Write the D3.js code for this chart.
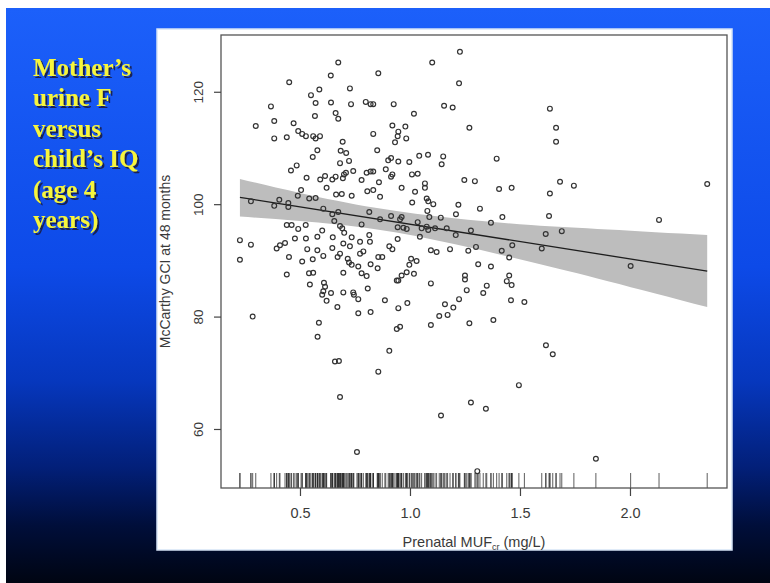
<!DOCTYPE html>
<html><head><meta charset="utf-8">
<script src="https://cdn.jsdelivr.net/npm/d3@7"></script>
<style>html,body{margin:0;padding:0;background:#fff;} svg{display:block}</style>
</head><body>
<svg id="c" width="770" height="583"></svg>
<script>
// ---- data ----
const titleLines = ["Mother\u2019s", "urine F", "versus", "child\u2019s IQ", "(age 4", "years)"];
const yLabel = "McCarthy GCI at 48 months";
const xTicks = [0.5, 1.0, 1.5, 2.0];
const yTicks = [60, 80, 100, 120];
const fitX = [0.227, 2.351];
const fitY = [101.2, 88.1];
const bandX = [0.227, 0.5, 0.85, 1.2, 1.55, 1.9, 2.351];
const bandLower = [97.8, 97.0, 95.5, 92.9, 89.7, 86.3, 81.7];
const bandUpper = [104.5, 102.0, 99.3, 97.5, 96.3, 95.5, 94.5];
// [prenatal MUFcr (mg/L), McCarthy GCI]
const points = [
[0.674,125.2],[0.640,122.9],[0.451,121.7],[0.588,120.4],[0.727,120.6],[0.550,119.4],[0.571,118.0],[0.641,118.1],[0.732,117.8],[0.368,117.4],[0.799,118.2],[0.821,117.8],[0.833,117.8],[0.568,115.7],[0.662,116.2],[0.674,115.2],[0.299,113.9],[0.383,114.8],[0.471,114.4],[0.383,111.7],[0.440,111.9],[0.492,113.0],[0.510,112.5],[0.527,112.1],[0.560,112.1],[0.571,111.7],[0.591,112.1],[0.833,112.5],[0.694,111.1],[0.685,109.5],[0.710,109.1],[0.579,109.6],[0.558,108.4],[0.682,107.3],[0.723,107.7],[0.485,106.9],[0.459,106.0],[0.530,104.7],[0.592,104.4],[0.614,105.0],[0.647,104.4],[0.662,104.9],[0.700,105.3],[0.709,105.6],[0.695,104.6],[0.742,105.9],[0.780,104.3],[0.803,105.6],[0.821,105.8],[0.833,105.8],
[1.227,127.1],[1.101,125.2],[0.856,123.3],[1.223,121.5],[0.926,117.8],[1.155,117.5],[1.194,117.2],[1.018,116.1],[1.270,113.6],[0.920,114.0],[0.979,113.8],[0.947,112.9],[0.944,112.1],[0.983,111.7],[0.932,111.0],[0.851,109.6],[1.042,108.6],[1.082,108.8],[1.151,108.5],[1.144,107.1],[1.394,108.1],[0.901,107.8],[0.914,108.2],[0.947,107.6],[0.997,107.5],[0.890,106.2],[0.914,104.9],[0.920,105.3],[1.009,105.3],[1.035,105.4],[1.068,103.7],[1.247,104.3],[1.295,104.1],[0.859,103.9],
[1.636,117.0],[1.664,113.6],[1.664,111.1],[1.636,101.9],[1.682,104.0],[1.745,103.3],[2.351,103.6],[1.632,97.9],[1.617,94.7],[1.690,95.2],[2.132,97.2],[2.003,89.0],[1.599,92.1],[1.618,74.9],[1.649,73.3],[1.845,54.7],
[0.505,102.5],[0.621,102.9],[0.664,101.7],[0.690,101.8],[0.735,101.5],[0.806,102.3],[0.833,102.5],[0.490,101.5],[0.542,101.0],[0.571,101.1],[0.277,100.5],[0.406,100.8],[0.447,100.2],[0.383,99.7],[0.447,99.5],[0.606,99.2],[0.647,98.2],[0.674,98.6],[0.815,98.6],[0.656,97.0],[0.440,96.3],[0.462,96.3],[0.526,96.3],[0.492,95.6],[0.682,96.1],[0.692,95.7],[0.701,94.9],[0.780,96.4],[0.601,95.3],[0.227,93.6],[0.277,92.8],[0.477,93.9],[0.527,93.9],[0.579,94.2],[0.649,94.1],[0.735,94.1],[0.815,94.5],[0.818,93.3],[0.394,92.1],[0.409,92.7],[0.432,93.1],[0.533,92.0],[0.579,91.8],[0.647,92.2],[0.697,93.0],[0.727,92.5],[0.773,93.3],[0.450,90.6],[0.510,89.8],[0.558,90.2],[0.606,90.8],[0.671,90.6],[0.682,91.2],[0.717,90.3],[0.723,89.6],[0.735,89.2],[0.773,91.2],[0.788,91.6],[0.227,90.1],[0.765,88.9],[0.821,89.3],[0.440,87.5],[0.541,87.7],[0.560,87.8],[0.697,87.8],[0.780,87.7],[0.803,87.2],[0.545,85.7],[0.609,86.0],[0.614,85.3],[0.606,84.5],[0.601,83.9],[0.641,84.2],[0.697,84.3],[0.742,84.3],[0.745,83.9],[0.808,85.0],[0.621,82.8],[0.765,83.1],[0.670,81.7],[0.765,80.6],[0.821,80.8],[0.285,80.0],[0.586,78.9],
[0.962,102.9],[1.023,102.2],[1.068,102.9],[0.864,101.3],[1.010,100.3],[1.076,101.0],[1.083,100.5],[1.106,100.0],[1.220,99.9],[1.405,102.7],[1.462,102.9],[1.318,99.2],[1.079,98.8],[1.209,98.2],[1.420,97.7],[1.140,97.6],[1.088,97.7],[0.914,97.9],[0.962,97.7],[0.955,97.3],[0.864,97.3],[1.035,96.8],[1.368,96.7],[0.944,95.9],[0.970,95.8],[0.985,95.6],[1.053,95.7],[1.076,96.0],[1.083,95.4],[1.114,95.7],[1.167,95.7],[1.277,95.3],[1.045,94.2],[1.208,94.5],[0.944,93.8],[1.465,92.7],[0.906,92.5],[0.920,92.0],[1.095,91.8],[1.121,91.5],[1.182,92.0],[1.265,91.7],[1.300,92.4],[1.417,91.7],[1.451,90.5],[0.856,90.6],[0.874,90.6],[1.005,90.3],[1.030,89.9],[0.997,89.2],[0.853,88.6],[1.310,89.3],[1.368,88.9],[0.985,87.9],[0.962,87.3],[1.018,87.6],[0.940,86.4],[0.947,86.4],[1.095,85.9],[1.250,87.3],[1.250,86.6],[1.451,87.3],[1.440,86.3],[1.462,85.6],[1.349,85.5],[1.258,84.7],[1.333,84.2],[0.886,82.9],[0.988,82.4],[1.223,83.1],[1.459,82.9],[1.520,82.6],[1.159,82.2],[1.197,81.6],[0.947,81.5],[1.133,80.1],[1.171,80.3],[1.379,79.4],[1.270,78.8],[1.095,78.5],[0.940,77.8],[0.955,78.2],
[0.580,76.4],[0.906,73.9],[0.659,72.0],[0.677,72.1],[0.856,70.2],[0.682,65.7],[0.759,55.9],[1.141,62.4],[1.277,64.7],[1.345,63.6],[1.495,67.8],[1.306,52.5]
];

// ---- drawing ----
const svg = d3.select("#c");
const defs = svg.append("defs");
const grad = defs.append("linearGradient").attr("id", "bg").attr("x1", 0).attr("y1", 0).attr("x2", 0).attr("y2", 1);
[[0, "#1c60fa"], [0.45, "#0d4ae8"], [0.65, "#0637bd"], [0.8, "#021f78"], [0.9, "#000e3a"], [1, "#000512"]]
  .forEach(([o, c]) => grad.append("stop").attr("offset", o).attr("stop-color", c));
const shadow = defs.append("filter").attr("id", "sh").attr("x", "-10%").attr("y", "-20%").attr("width", "130%").attr("height", "150%");
shadow.append("feDropShadow").attr("dx", 2).attr("dy", 2).attr("stdDeviation", 0.6)
  .attr("flood-color", "#141438").attr("flood-opacity", 0.85);

svg.append("rect").attr("x", 6).attr("y", 8).attr("width", 764).attr("height", 575).attr("fill", "url(#bg)");

// title
const title = svg.append("g").attr("font-family", "'Liberation Serif', 'Times New Roman', serif")
  .attr("font-weight", "bold").attr("font-size", 25).attr("fill", "#f6f53c").attr("filter", "url(#sh)");
titleLines.forEach((t, i) => {
  title.append("text").attr("x", 33).attr("y", 76 + i * 30.4).text(t);
});

// white panel
svg.append("rect").attr("x", 157).attr("y", 29).attr("width", 575).attr("height", 521)
  .attr("fill", "#fff").attr("stroke", "#d6e4f6").attr("stroke-width", 1.5);

const pL = 221, pR = 727, pT = 35, pB = 488;
const x = d3.scaleLinear().domain([0.141, 2.441]).range([pL, pR]);
const y = d3.scaleLinear().domain([49.5, 130.1]).range([pB, pT]);

// confidence band
const band = bandX.map((v, i) => ({x: v, lo: bandLower[i], hi: bandUpper[i]}));
svg.append("path").datum(band)
  .attr("d", d3.area().x(d => x(d.x)).y0(d => y(d.lo)).y1(d => y(d.hi)).curve(d3.curveNatural))
  .attr("fill", "#bdbdbd");

// fit line
svg.append("path").datum(fitX.map((v, i) => [v, fitY[i]]))
  .attr("d", d3.line().x(d => x(d[0])).y(d => y(d[1])))
  .attr("stroke", "#1e1e1e").attr("stroke-width", 1.3).attr("fill", "none");

// rug
svg.append("g").selectAll("line").data(points).join("line")
  .attr("x1", d => x(d[0])).attr("x2", d => x(d[0]))
  .attr("y1", pB).attr("y2", pB - 15)
  .attr("stroke", "#2a2a2a").attr("stroke-width", 0.9).attr("stroke-opacity", 0.85);

// points
svg.append("g").selectAll("circle").data(points).join("circle")
  .attr("cx", d => x(d[0])).attr("cy", d => y(d[1])).attr("r", 2.4)
  .attr("fill", "none").attr("stroke", "#333").attr("stroke-width", 1.2);

// box
svg.append("rect").attr("x", pL).attr("y", pT).attr("width", pR - pL).attr("height", pB - pT)
  .attr("fill", "none").attr("stroke", "#555").attr("stroke-width", 1.3);

const font = "'Liberation Sans', Arial, Helvetica, sans-serif";

// x axis
const xa = svg.append("g").attr("transform", `translate(0,${pB})`)
  .call(d3.axisBottom(x).tickValues(xTicks).tickSize(8).tickPadding(12).tickFormat(d3.format(".1f")));
xa.select(".domain").remove();
xa.selectAll("line").attr("stroke", "#444").attr("stroke-width", 1.2);
xa.selectAll("text").attr("font-family", font).attr("font-size", 14.5).attr("fill", "#3a3a3a");

// y axis
const ya = svg.append("g").attr("transform", `translate(${pL},0)`)
  .call(d3.axisLeft(y).tickValues(yTicks).tickSize(7).tickFormat(d3.format("d")));
ya.select(".domain").remove();
ya.selectAll("line").attr("stroke", "#444").attr("stroke-width", 1.2);
ya.selectAll("text").attr("font-family", font).attr("font-size", 13.5).attr("fill", "#3a3a3a")
  .attr("text-anchor", "middle").attr("transform", "rotate(-90)")
  .attr("x", 0).attr("y", -18).attr("dy", null);

// axis titles
svg.append("text").attr("transform", `translate(170,${(pT + pB) / 2}) rotate(-90)`)
  .attr("text-anchor", "middle").attr("font-family", font).attr("font-size", 14).attr("fill", "#3a3a3a")
  .text(yLabel);
const xt = svg.append("text").attr("x", (pL + pR) / 2).attr("y", 547).attr("text-anchor", "middle")
  .attr("font-family", font).attr("font-size", 14.5).attr("fill", "#3a3a3a");
xt.append("tspan").text("Prenatal MUF");
xt.append("tspan").attr("font-size", 9).attr("dy", 3).text("cr");
xt.append("tspan").attr("dy", -3).text(" (mg/L)");
</script>
</body></html>
